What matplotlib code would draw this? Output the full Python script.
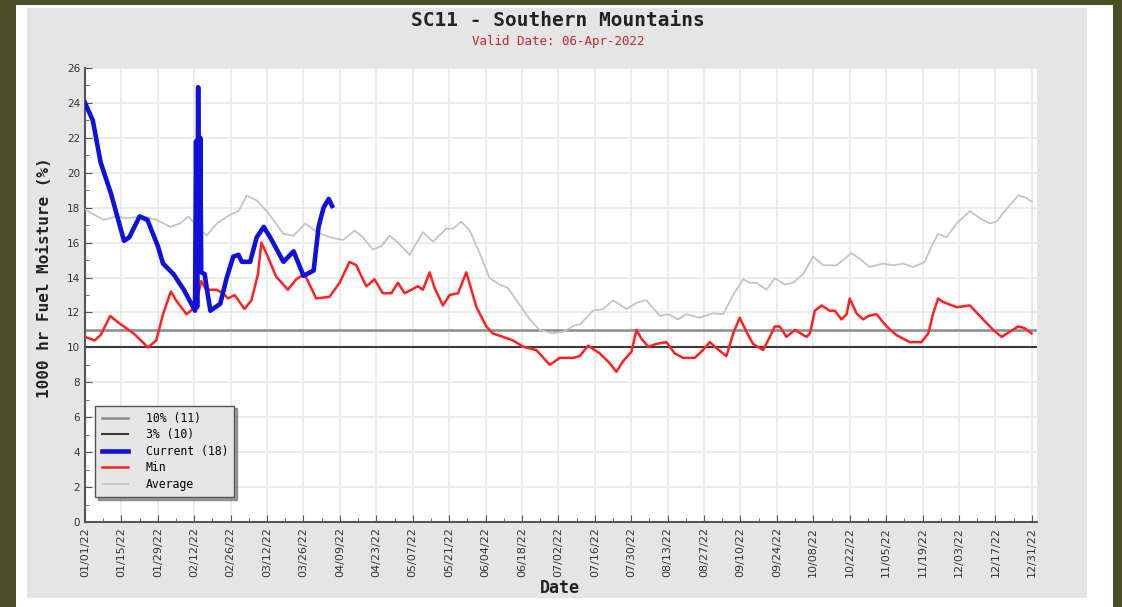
import matplotlib.pyplot as plt
from matplotlib.patches import Rectangle
from matplotlib.ticker import MultipleLocator

W, H = 1122, 607

# x tick labels (every 14 days from 01/01/22)
tick_labels = ['01/01/22', '01/15/22', '01/29/22', '02/12/22', '02/26/22', '03/12/22',
               '03/26/22', '04/09/22', '04/23/22', '05/07/22', '05/21/22', '06/04/22',
               '06/18/22', '07/02/22', '07/16/22', '07/30/22', '08/13/22', '08/27/22',
               '09/10/22', '09/24/22', '10/08/22', '10/22/22', '11/05/22', '11/19/22',
               '12/03/22', '12/17/22', '12/31/22']

# percentile lines
pct10 = 11
pct3 = 10

# average (day of year, value)
avg_day = [0, 7.1, 12.2, 16.1, 22.5, 27.6, 32.8, 36.6, 39.8, 43.0, 46.8, 50.7, 55.8, 59.0,
           62.2, 66.1, 69.9, 76.3, 80.2, 84.7, 89.2, 94.3, 99.2, 103.7, 106.8, 110.7, 113.9,
           117.1, 120.3, 124.8, 129.9, 133.8, 138.9, 141.5, 144.7, 147.9, 151.7, 155.6, 159.4,
           162.6, 165.8, 171.0, 174.8, 179.9, 183.8, 188.9, 190.2, 195.3, 199.2, 203.0, 208.2,
           212.6, 215.8, 221.0, 224.2, 228.0, 231.2, 236.3, 241.5, 245.3, 249.2, 253.0, 255.6,
           258.2, 262.0, 265.2, 269.0, 272.2, 276.1, 279.9, 283.8, 288.9, 294.7, 298.5, 301.7,
           306.8, 310.7, 314.5, 318.4, 322.9, 325.5, 328.0, 331.2, 335.1, 340.2, 344.0, 347.8,
           350.5, 353.0, 355.6, 358.8, 361.3, 363.9]
avg_val = [17.9, 17.3, 17.5, 17.4, 17.5, 17.3, 16.9, 17.1, 17.5, 16.9, 16.4, 17.1, 17.6, 17.8,
           18.7, 18.4, 17.8, 16.5, 16.4, 17.1, 16.6, 16.3, 16.15, 16.7, 16.3, 15.6, 15.8,
           16.4, 16.0, 15.3, 16.6, 16.05, 16.8, 16.8, 17.2, 16.7, 15.4, 13.96, 13.6,
           13.4, 12.7, 11.6, 11.0, 10.8, 10.9, 11.3, 11.3, 12.1, 12.2, 12.7, 12.2,
           12.6, 12.7, 11.8, 11.9, 11.6, 11.9, 11.7, 11.95, 11.9, 13.0, 13.9, 13.7,
           13.7, 13.3, 13.96, 13.6, 13.7, 14.2, 15.2, 14.7, 14.7, 15.4, 15.0, 14.6,
           14.8, 14.7, 14.8, 14.6, 14.9, 15.8, 16.5, 16.3, 17.1, 17.8, 17.4, 17.1,
           17.2, 17.7, 18.15, 18.7, 18.6, 18.35]

# minimum
min_day = [0, 3.7, 6, 9.7, 13, 18.7, 24.2, 27.4, 30, 33, 35, 39, 41.5, 43, 44.7, 46.6, 50.5,
           53, 55, 57.5, 61.3, 64, 66.5, 67.8, 69.7, 73.5, 78, 81.2, 84.4, 88.9, 94.0, 97.9,
           101.7, 104.3, 106.8, 108.2, 111.3, 114.5, 117.8, 120.3, 122.9, 128.0, 129.9, 132.5,
           134.4, 137.6, 140.2, 143.4, 146.6, 150.5, 154.3, 156.8, 160.7, 164.5, 168.4, 173.5,
           178.7, 182.5, 187.6, 190.2, 193.4, 197.9, 201.7, 204.3, 206.8, 210.1, 212.0, 213.9,
           216.5, 219.7, 223.5, 226.7, 229.9, 234.4, 237.6, 240.2, 242.8, 246.6, 249.2, 251.7,
           254.3, 256.8, 260.7, 263.3, 265.2, 267.1, 269.7, 272.9, 277.4, 278.7, 280.6, 283.2,
           286.3, 288.3, 290.8, 292.8, 294.0, 296.6, 299.2, 301.1, 304.3, 308.2, 312.0, 317.1,
           321.6, 324.2, 326.1, 328.0, 329.9, 335.1, 340.2, 345.3, 349.2, 352.4, 355.6, 358.8,
           361.3, 363.9]
min_val = [10.6, 10.4, 10.7, 11.8, 11.4, 10.8, 10.0, 10.4, 11.9, 13.2, 12.7, 11.9, 12.2, 12.7,
           13.8, 13.3, 13.3, 13.1, 12.8, 13.0, 12.2, 12.7, 14.2, 16.0, 15.4, 14.05, 13.3, 13.9,
           14.2, 12.8, 12.9, 13.7, 14.9, 14.7, 13.9, 13.5, 13.9, 13.1, 13.1, 13.7, 13.1, 13.5,
           13.3, 14.3, 13.4, 12.4, 13.0, 13.1, 14.3, 12.3, 11.2, 10.8, 10.6, 10.4, 10.04, 9.85,
           9.0, 9.4, 9.4, 9.5, 10.1, 9.66, 9.1, 8.6, 9.2, 9.75, 11.0, 10.5, 10.04, 10.2, 10.3,
           9.66, 9.4, 9.4, 9.85, 10.3, 9.95, 9.5, 10.8, 11.7, 10.9, 10.2, 9.85, 10.6, 11.2,
           11.2, 10.6, 11.0, 10.6, 10.8, 12.1, 12.4, 12.1, 12.1, 11.6, 11.9, 12.8, 11.95, 11.6,
           11.8, 11.9, 11.2, 10.7, 10.3, 10.3, 10.8, 11.95, 12.8, 12.6, 12.3, 12.4, 11.6, 11.0,
           10.6, 10.9, 11.2, 11.1, 10.8]

# current year
cur_day = [0, 3, 6, 10, 15, 17, 19, 21, 24, 28, 30, 34, 38, 42.3, 42.7, 43.1, 43.5, 43.9,
           44.3, 44.7, 46, 47, 48.2, 52, 54.5, 57, 59, 60.3, 63.5, 66, 68.7, 71.2, 76.3, 80.2,
           84, 87.9, 89.8, 91.7, 93.7, 95]
cur_val = [24.0, 23.0, 20.6, 18.8, 16.1, 16.3, 16.9, 17.5, 17.3, 15.8, 14.8, 14.2, 13.3, 12.1,
           21.8, 12.3, 24.9, 15.0, 22.0, 14.3, 14.2, 13.2, 12.1, 12.5, 14.0, 15.2, 15.3, 14.9,
           14.9, 16.3, 16.9, 16.3, 14.9, 15.5, 14.1, 14.4, 16.9, 18.0, 18.5, 18.1]

fig = plt.figure(figsize=(W / 100, H / 100), dpi=100, facecolor='#4a4f26')
fig.patches.append(Rectangle((16 / W, 0), (1113 - 16) / W, (H - 5) / H,
                             transform=fig.transFigure, facecolor='white', zorder=-3))
fig.patches.append(Rectangle((27 / W, (H - 598) / H), (1087 - 27) / W, (598 - 8) / H,
                             transform=fig.transFigure, facecolor='#e5e5e5', zorder=-2))

ax = fig.add_axes([85 / W, (H - 522) / H, (1037 - 85) / W, (522 - 68) / H])
ax.set_facecolor('white')

ax.axhline(pct10, color='#8a8a8a', lw=1.8, label='10% (11)', zorder=2)
ax.axhline(pct3, color='#3a3a3a', lw=1.5, label='3% (10)', zorder=2)
ax.plot(cur_day, cur_val, color='#1010dd', lw=3.3, label='Current (18)', zorder=5)
ax.plot(min_day, min_val, color='#ff2020', lw=1.8, label='Min', zorder=4)
ax.plot(avg_day, avg_val, color='#c4c4c4', lw=1.3, label='Average', zorder=3)

ax.set_xlim(0, 366)
ax.set_ylim(0, 26)
ax.set_xticks([14 * i for i in range(len(tick_labels))])
ax.set_xticklabels(tick_labels, rotation=90, fontsize=8, color='#333333')
ax.xaxis.set_minor_locator(MultipleLocator(7))
ax.yaxis.set_major_locator(MultipleLocator(2))
ax.yaxis.set_minor_locator(MultipleLocator(1))
ax.tick_params(axis='y', labelsize=7.5, labelcolor='#333333')
ax.tick_params(which='both', direction='in', color='#555555')
ax.tick_params(which='major', length=5)
ax.tick_params(which='minor', length=3)
ax.grid(True, color='#ebebeb', lw=1.3, zorder=0)
ax.set_axisbelow(True)
for s in ['top', 'right']:
    ax.spines[s].set_visible(False)
for s in ['left', 'bottom']:
    ax.spines[s].set_color('#555555')
    ax.spines[s].set_linewidth(1.5)

leg = ax.legend(loc='lower left', bbox_to_anchor=(0.011, 0.055),
                borderaxespad=0, fancybox=False, shadow=True, frameon=True,
                prop={'family': 'DejaVu Sans Mono', 'size': 8.3}, handlelength=2.3,
                labelspacing=0.3, borderpad=0.55, handletextpad=1.5)
leg.get_frame().set_facecolor('#e6e6e6')
leg.get_frame().set_edgecolor('#555555')
leg.get_frame().set_alpha(1)

fig.text(558 / W, 1 - 20 / H, 'SC11 - Southern Mountains', ha='center', va='center',
         family='DejaVu Sans Mono', fontweight='bold', fontsize=14, color='#222222')
fig.text(558 / W, 1 - 42 / H, 'Valid Date: 06-Apr-2022', ha='center', va='center',
         family='DejaVu Sans Mono', fontsize=9, color='#c0282a')
fig.text(45 / W, 1 - 278 / H, '1000 hr Fuel Moisture (%)', ha='center', va='center',
         rotation=90, family='DejaVu Sans Mono', fontweight='bold', fontsize=11.5,
         color='#222222')
fig.text(560 / W, 1 - 588 / H, 'Date', ha='center', va='center',
         family='DejaVu Sans Mono', fontweight='bold', fontsize=12, color='#222222')

fig.savefig('out.png', dpi=100, facecolor=fig.get_facecolor())
